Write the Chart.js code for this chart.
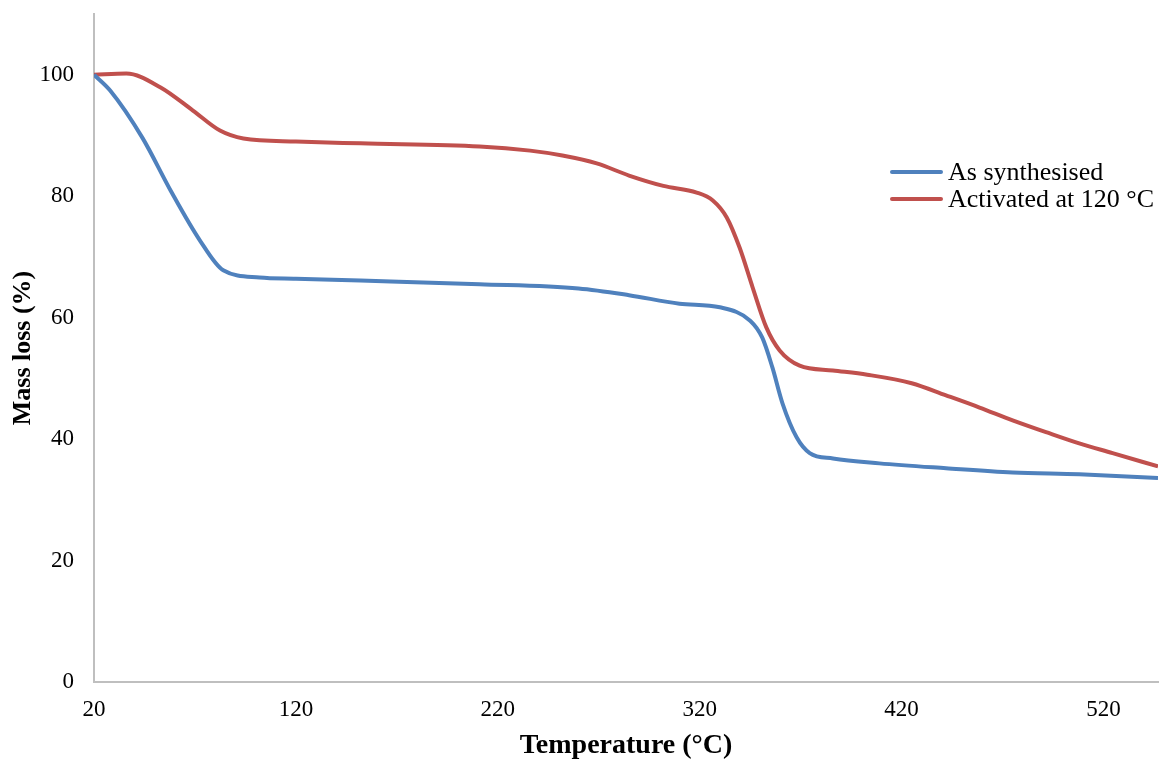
<!DOCTYPE html>
<html>
<head>
<meta charset="utf-8">
<script src="https://cdn.jsdelivr.net/npm/chart.js@4"></script>
<style>
  body { margin: 0; background: #fff; }
  #wrap { position: relative; width: 1160px; height: 760px; }
  #legend { position: absolute; left: 890px; top: 158px; font-family: "Liberation Serif", serif; font-size: 26px; color: #000; }
  #legend div { display: flex; align-items: center; height: 27px; white-space: nowrap; }
  #legend span.ln { display: inline-block; width: 53px; height: 4px; margin-right: 5px; border-radius: 2px; }
</style>
</head>
<body>
<div id="wrap">
  <canvas id="myChart" width="1160" height="760"></canvas>
  <div id="legend"></div>
</div>
<script>
// temperatures (°C) and mass (%)
const tempSynth = [20, 28, 44, 58, 72.5, 84, 102, 120, 152, 211, 260, 285, 310, 330, 345, 351, 356, 361, 368, 374.5, 386, 409, 442, 475, 508, 547];
const massSynth = [100, 97.4, 89.6, 80.9, 72.7, 67.8, 66.6, 66.4, 66.1, 65.5, 64.8, 63.7, 62.3, 61.7, 59.5, 56.7, 51.8, 45.9, 40.3, 37.7, 36.8, 36.0, 35.2, 34.5, 34.2, 33.6];

const tempAct = [20, 36, 53, 69, 82.4, 94, 120, 152, 211, 236, 252, 269, 285, 302, 318.5, 326.5, 333.4, 339.8, 346.2, 353, 359.6, 369.5, 386, 403, 425, 442, 458.6, 475, 492, 508, 524.5, 547];
const massAct = [100, 100.2, 97.9, 94.1, 90.8, 89.5, 89.0, 88.7, 88.2, 87.5, 86.7, 85.4, 83.4, 81.7, 80.6, 79.3, 76.5, 71.5, 65, 58.4, 54.6, 52.1, 51.3, 50.6, 49.2, 47.2, 45.2, 43.1, 41.1, 39.3, 37.7, 35.5];

const xTicks = [20, 120, 220, 320, 420, 520];
const yTicks = [0, 20, 40, 60, 80, 100];

const seriesNames = ["As synthesised", "Activated at 120 °C"];
const seriesColors = ["#4f81bd", "#c0504d"];

const toPoints = (xs, ys) => xs.map((x, i) => ({ x: x, y: ys[i] }));

const ctx = document.getElementById("myChart");
const serif = "'Liberation Serif', 'Times New Roman', serif";

new Chart(ctx, {
  type: "line",
  data: {
    datasets: [
      { label: seriesNames[0], data: toPoints(tempSynth, massSynth), borderColor: seriesColors[0] },
      { label: seriesNames[1], data: toPoints(tempAct, massAct), borderColor: seriesColors[1] },
    ],
  },
  options: {
    responsive: false,
    animation: false,
    layout: { padding: { top: 14, right: 2, left: 0, bottom: 0 } },
    elements: {
      point: { radius: 0 },
      line: { borderWidth: 4, cubicInterpolationMode: "monotone", fill: false },
    },
    plugins: { legend: { display: false }, tooltip: { enabled: false } },
    scales: {
      x: {
        type: "linear",
        min: 20,
        max: 547,
        afterBuildTicks: (axis) => { axis.ticks = xTicks.map((v) => ({ value: v })); },
        afterFit: (axis) => { axis.height = 78; axis.paddingRight = 0; axis.paddingLeft = 0; },
        grid: { display: false, drawTicks: false },
        border: { color: "#bfbfbf", width: 2 },
        ticks: { color: "#000", padding: 14, font: { family: serif, size: 23 } },
        title: {
          display: true,
          text: "Temperature (°C)",
          color: "#000",
          padding: 0,
          font: { family: serif, size: 28, weight: "bold", lineHeight: 1 },
        },
      },
      y: {
        min: 0,
        max: 110,
        afterBuildTicks: (axis) => { axis.ticks = yTicks.map((v) => ({ value: v })); },
        afterFit: (axis) => { axis.width = 94; axis.paddingTop = 0; axis.paddingBottom = 0; },
        grid: { display: false, drawTicks: false },
        border: { color: "#bfbfbf", width: 2 },
        ticks: { color: "#000", padding: 20, font: { family: serif, size: 23 } },
        title: {
          display: true,
          text: "Mass loss (%)",
          color: "#000",
          padding: { top: 8, bottom: 0 },
          font: { family: serif, size: 26, weight: "bold" },
        },
      },
    },
  },
});

const legend = document.getElementById("legend");
seriesNames.forEach((name, i) => {
  const row = document.createElement("div");
  row.innerHTML = '<span class="ln" style="background:' + seriesColors[i] + '"></span>' + name;
  legend.appendChild(row);
});
</script>
</body>
</html>
